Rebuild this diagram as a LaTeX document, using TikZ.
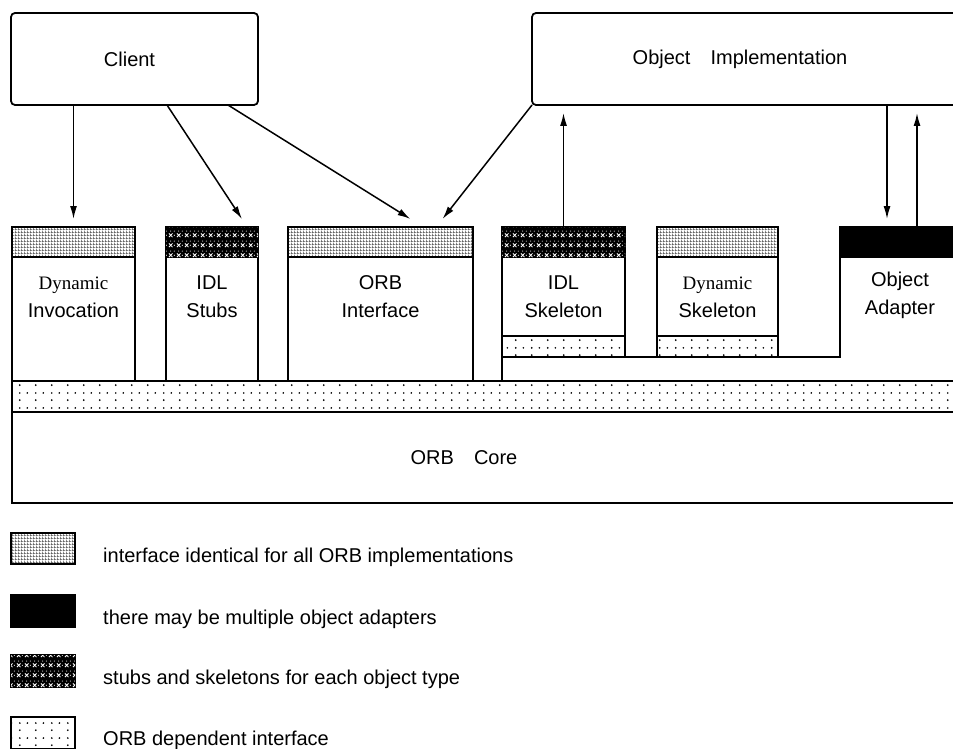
\documentclass[tikz,border=0pt]{standalone}
\usepackage{fontspec}
\setmainfont{Liberation Sans}
\newfontfamily\dynfont{Liberation Serif}
\usepackage{tikz}
\usetikzlibrary{arrows.meta, calc, patterns, patterns.meta}
\tikzset{next/.style={-{Latex[length=13pt,width=7pt]}, line width=1.5pt}}
\tikzset{unit/.style={draw, line width=1.5pt, anchor=north west, inner sep=0pt, outer sep=0pt}}
\tikzset{bigbox/.style={draw, line width=1.8pt, rounded corners=4pt, anchor=north west, inner sep=0pt, outer sep=0pt}}
\tikzset{lbl/.style={align=center, inner sep=0pt}}
\tikzset{legtext/.style={anchor=base west, inner sep=0pt}}
\tikzdeclarepattern{
  name=idgrid, type=uncolored,
  bounding box={(0pt,0pt) and (3pt,3pt)},
  tile size={(3pt,3pt)},
  code={
    \fill (0pt,0pt) rectangle (3pt,0.9pt);
    \fill (0pt,0pt) rectangle (0.9pt,3pt);
  }
}
\tikzdeclarepattern{
  name=xmarks, type=uncolored,
  bounding box={(0pt,0pt) and (8pt,10pt)},
  tile size={(8pt,10pt)},
  code={
    \draw[line width=0.9pt] (1pt,2pt) -- (5pt,6pt) (1pt,6pt) -- (5pt,2pt);
    \fill (3pt,8.5pt) circle (0.6pt);
    \fill (7pt,8.5pt) circle (0.6pt);
    \fill (7pt,4pt) circle (0.6pt);
  }
}
\tikzdeclarepattern{
  name=orbdots, type=uncolored,
  bounding box={(0pt,0pt) and (16pt,15pt)},
  tile size={(16pt,15pt)},
  code={
    \fill (4pt,4pt) circle (1pt);
    \fill (4pt,11.5pt) circle (1pt);
    \fill (12pt,11.5pt) circle (1pt);
  }
}
\tikzset{idface/.style={pattern=idgrid, pattern color=black!70}}
\tikzset{stubface/.style={fill=black, postaction={pattern=xmarks, pattern color=white}}}
\tikzset{orbface/.style={pattern=orbdots}}
\newcommand{\bandh}{30pt}

\begin{document}
\begin{tikzpicture}[x=1pt, y=-1pt, font=\fontsize{20}{28}\selectfont]
  \useasboundingbox (0,0) rectangle (953,749);
  \clip (0,0) rectangle (953,749);

  % --- client and object implementation ---
  \node[bigbox, minimum width=247pt, minimum height=92pt] (client) at (11,13) {Client\hspace*{10pt}};
  \node[bigbox, minimum width=430pt, minimum height=92pt] (impl) at (532,13) {Object\quad Implementation\hspace*{14pt}};

  % --- client side interfaces ---
  \node[unit, minimum width=123pt, minimum height=154pt] (dii) at (12,227) {};
  \node[unit, minimum width=123pt, minimum height=\bandh, idface] (diiband) at (12,227) {};
  \node[lbl] (diitext) at ($(dii.north)+(0,70)$) {{\dynfont\fontsize{19}{28}\selectfont Dynamic}\\Invocation};

  \node[unit, minimum width=92pt, minimum height=154pt] (stubs) at (166,227) {};
  \node[unit, minimum width=92pt, minimum height=\bandh, stubface] (stubsband) at (166,227) {};
  \node[lbl] (stubstext) at ($(stubs.north)+(0,70)$) {IDL\\Stubs};

  \node[unit, minimum width=185pt, minimum height=154pt] (orbif) at (288,227) {};
  \node[unit, minimum width=185pt, minimum height=\bandh, idface] (orbifband) at (288,227) {};
  \node[lbl] (orbiftext) at ($(orbif.north)+(0,70)$) {ORB\\Interface};

  % --- implementation side interfaces ---
  \node[unit, minimum width=123pt, minimum height=130pt] (skel) at (502,227) {};
  \node[unit, minimum width=123pt, minimum height=\bandh, stubface] (skelband) at (502,227) {};
  \node[unit, minimum width=123pt, minimum height=21pt, orbface] (skeldots) at (502,336) {};
  \node[lbl] (skeltext) at ($(skel.north)+(0,70)$) {IDL\\Skeleton};

  \node[unit, minimum width=121pt, minimum height=130pt] (dsi) at (657,227) {};
  \node[unit, minimum width=121pt, minimum height=\bandh, idface] (dsiband) at (657,227) {};
  \node[unit, minimum width=121pt, minimum height=21pt, orbface] (dsidots) at (657,336) {};
  \node[lbl] (dsitext) at ($(dsi.north)+(0,70)$) {{\dynfont\fontsize{19}{28}\selectfont Dynamic}\\Skeleton};

  \node[unit, draw=none, minimum width=120pt, minimum height=130pt] (oa) at (840,227) {};
  \draw[line width=1.5pt] (dsi.south east) -- (oa.south west) -- (oa.north west);
  \node[unit, minimum width=120pt, minimum height=\bandh, fill=black] (oaband) at (840,227) {};
  \node[lbl] (oatext) at ($(oa.north)+(0,68)$) {Object\\Adapter};

  % --- orb core ---
  \node[unit, minimum width=948pt, minimum height=31pt, orbface] (orbband) at (12,381) {};
  \node[unit, minimum width=948pt, minimum height=91pt] (core) at (12,412) {ORB\quad Core\hspace*{44pt}};
  \draw[line width=1.5pt] (skel.south east) -- (dsi.south west);
  \draw[line width=1.5pt] (skel.south west) -- (skel.south west |- orbband.north);

  % --- calls ---
  \draw[next] (client.south -| dii.north) -- ($(dii.north)+(0,-8)$);
  \draw[next] ($(client.south west)+(156,0)$) -- ($(stubs.north east)+(-16,-8)$);
  \draw[next] ($(client.south east)+(-30,0)$) -- ($(orbif.north)+(30,-8)$);
  \draw[next] (impl.south west) -- ($(orbif.north)+(62,-8)$);
  \draw[next] (skel.north) -- ($(skel.north |- impl.south)+(0,8)$);
  \coordinate (oadown) at ($(oa.north)+(-13,0)$);
  \coordinate (oaup) at ($(oa.north)+(17,0)$);
  \draw[next] (oadown |- impl.south) -- ($(oadown)+(0,-8)$);
  \draw[next] (oaup) -- ($(oaup |- impl.south)+(0,8)$);

  % --- legend ---
  \node[unit, minimum width=64pt, minimum height=31pt, idface] (leg1) at (11,533) {};
  \node[legtext] (leg1text) at (103,562) {interface identical for all ORB implementations};
  \node[unit, minimum width=64pt, minimum height=32pt, fill=black] (leg2) at (11,595) {};
  \node[legtext] (leg2text) at (103,624) {there may be multiple object adapters};
  \node[unit, minimum width=64pt, minimum height=32pt, stubface] (leg3) at (11,655) {};
  \node[legtext] (leg3text) at (103,684) {stubs and skeletons for each object type};
  \node[unit, minimum width=64pt, minimum height=32pt, orbface] (leg4) at (11,717) {};
  \node[legtext] (leg4text) at (103,745) {ORB dependent interface};
\end{tikzpicture}
\end{document}
